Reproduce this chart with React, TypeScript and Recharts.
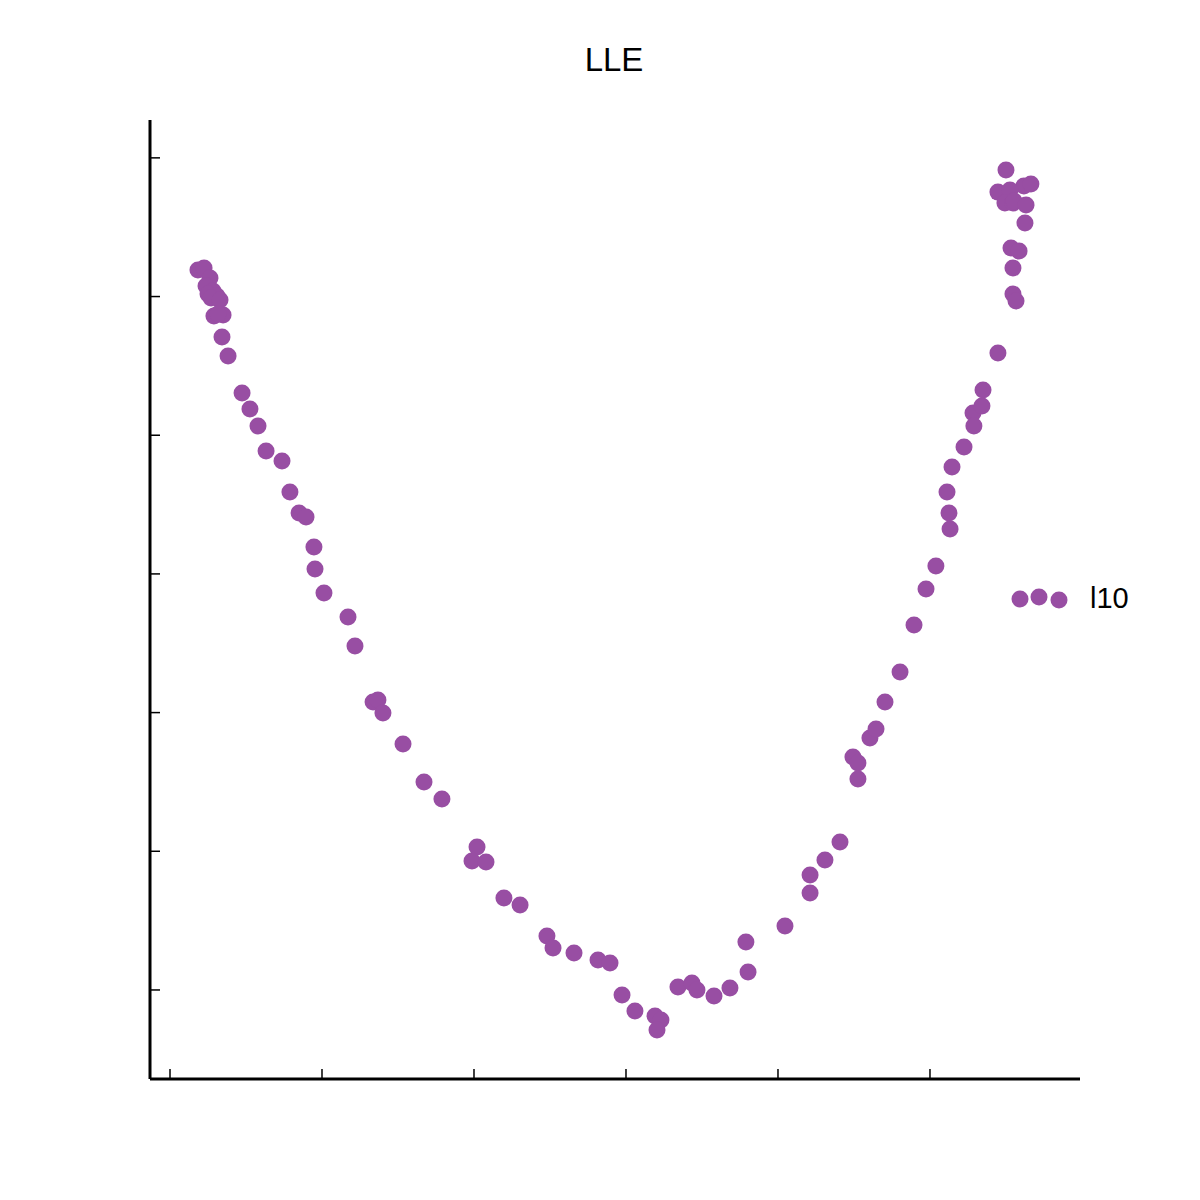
import { ScatterChart, Scatter, XAxis, YAxis } from 'recharts'

const xTicks = [0, 1, 2, 3, 4, 5]
const yTicks = [0, 1, 2, 3, 4, 5, 6]

// embedding coordinates (component 1 / component 2)
const compX = [
  0.184, 0.224, 0.263, 0.237, 0.283, 0.25, 0.309, 0.27, 0.329, 0.349, 0.289, 0.316, 0.342, 0.382,
  0.474, 0.526, 0.579, 0.632, 0.737, 0.789, 0.849, 0.895, 0.947, 0.954, 1.013, 1.171, 1.217,
  1.336, 1.368, 1.401, 1.533, 1.671, 1.789, 2.02, 1.987, 2.079, 2.197, 2.303, 2.48, 2.52, 2.658,
  2.816, 2.895, 2.974, 3.059, 3.191, 3.23, 3.204, 3.342, 3.434, 3.467, 3.579, 3.684, 3.789, 3.803,
  4.046, 4.211, 4.211, 4.309, 4.408, 4.493, 4.526, 4.526, 4.605, 4.645, 4.704, 4.803, 4.895,
  4.974, 5.039, 5.112, 5.125, 5.132, 5.145, 5.224, 5.283, 5.289, 5.342, 5.349, 5.447, 5.5, 5.618,
  5.664, 5.447, 5.526, 5.493, 5.546, 5.553, 5.632, 5.625, 5.533, 5.586, 5.546, 5.546, 5.566,
]
const compY = [
  5.191, 5.206, 5.133, 5.076, 5.04, 5.018, 5.004, 4.989, 4.975, 4.867, 4.86, 4.874, 4.708, 4.571,
  4.304, 4.189, 4.066, 3.886, 3.814, 3.59, 3.439, 3.41, 3.194, 3.035, 2.862, 2.689, 2.48,
  2.076, 2.091, 1.997, 1.774, 1.5, 1.377, 1.031, 0.93, 0.923, 0.663, 0.613, 0.389, 0.303, 0.267,
  0.216, 0.195, -0.036, -0.151, -0.187, -0.216, -0.288, 0.022, 0.05, 0.0, -0.043, 0.014, 0.346, 0.13,
  0.461, 0.829, 0.699, 0.937, 1.067, 1.68, 1.637, 1.521, 1.817, 1.882, 2.076, 2.293, 2.632,
  2.891, 3.057, 3.59, 3.439, 3.324, 3.771, 3.915, 4.16, 4.066, 4.211, 4.326, 4.593, 5.912, 5.797,
  5.811, 5.753, 5.768, 5.674, 5.674, 5.689, 5.66, 5.53, 5.35, 5.328, 5.206, 5.018, 4.968,
]

const points = compX.map((x, i) => ({ x, y: compY[i] }))

const PURPLE = '#984ea3'
const FONT = 'Liberation Sans, Arial, sans-serif'

const Dot = (props: any) => <circle cx={props.cx} cy={props.cy} r={8.5} fill={PURPLE} />
const NoLabel = () => <g />

export default function App() {
  return (
    <div style={{ position: 'absolute', left: 0, top: 0, width: 1200, height: 1200, background: '#fff' }}>
      <svg width={1200} height={100} style={{ position: 'absolute', left: 0, top: 0 }}>
        <text x={614} y={71} textAnchor="middle" fontSize={33} fontFamily={FONT} fill="#000">
          LLE
        </text>
      </svg>
      <ScatterChart width={1200} height={1200} margin={{ top: 120, left: 120, right: 120, bottom: 91 }}>
        <XAxis
          type="number"
          dataKey="x"
          domain={[-0.1316, 5.987]}
          ticks={xTicks}
          allowDataOverflow
          height={30}
          tick={NoLabel}
          tickSize={-10}
          axisLine={{ stroke: '#000', strokeWidth: 3 }}
          tickLine={{ stroke: '#000', strokeWidth: 1.5 }}
        />
        <YAxis
          type="number"
          dataKey="y"
          domain={[-0.642, 6.273]}
          ticks={yTicks}
          allowDataOverflow
          width={30}
          tick={NoLabel}
          tickSize={-10}
          axisLine={{ stroke: '#000', strokeWidth: 3 }}
          tickLine={{ stroke: '#000', strokeWidth: 1.5 }}
        />
        <Scatter name="l10" data={points} shape={Dot} isAnimationActive={false} />
      </ScatterChart>
      <svg width={160} height={45} style={{ position: 'absolute', left: 1010, top: 580 }}>
        <circle cx={10} cy={19} r={8.5} fill={PURPLE} />
        <circle cx={29} cy={17} r={8.5} fill={PURPLE} />
        <circle cx={49} cy={20} r={8.5} fill={PURPLE} />
        <text x={80} y={28} fontSize={29} fontFamily={FONT} fill="#000">
          l10
        </text>
      </svg>
    </div>
  )
}
